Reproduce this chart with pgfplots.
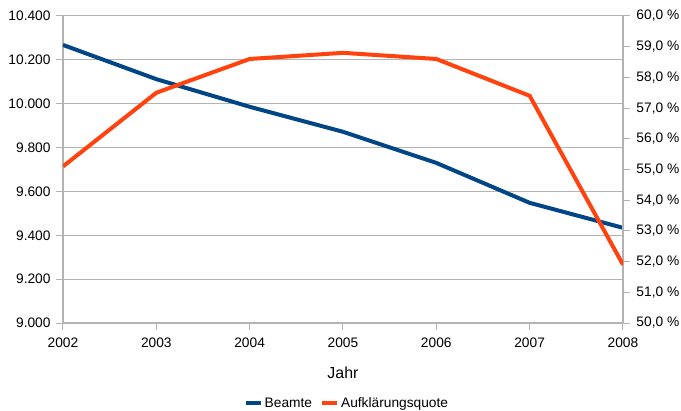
\documentclass[border=0pt]{standalone}
\usepackage{fontspec}
\setmainfont{Liberation Sans}
\usepackage{pgfplots}
\pgfplotsset{compat=1.18}
\definecolor{beamte}{HTML}{004586}
\definecolor{quote}{HTML}{FF420E}
\definecolor{gridgray}{HTML}{B3B3B3}

\begin{document}
\begin{tikzpicture}
\pgfplotsset{
  every axis/.append style={
    scale only axis, width=560bp, height=307bp,
    xmin=2002, xmax=2008,
    font=\fontsize{13.8}{16}\selectfont,
    axis line style={gridgray, line width=1.2bp},
    tick style={gridgray, line width=1bp},
    tick align=outside, major tick length=7bp,
    /pgf/number format/assume math mode=true,
  },
}
\begin{axis}[
  name=ax,
  axis x line*=bottom, axis y line*=left,
  ymin=9000, ymax=10400, ytick={9000,9200,...,10400},
  scaled y ticks=false,
  xtick={2002,...,2008},
  xticklabel style={/pgf/number format/1000 sep={}, yshift=-4bp},
  yticklabel style={/pgf/number format/fixed, /pgf/number format/1000 sep={.}, /pgf/number format/precision=0, xshift=-2bp},
  ymajorgrids, grid style={gridgray, line width=1bp},
  xlabel={Jahr},
  xlabel style={font=\fontsize{16}{19}\selectfont, at={(axis description cs:0.5,-0.162)}, anchor=center},
]
\addplot[beamte, line width=4bp] coordinates {
  (2002,10268) (2003,10112) (2004,9986) (2005,9872)
  (2006,9730) (2007,9548) (2008,9434)};
\end{axis}
\begin{axis}[
  axis x line=none, axis y line*=right,
  ymin=50, ymax=60, ytick={50,51,...,60},
  yticklabel={\pgfmathprintnumber[fixed, fixed zerofill, precision=1, use comma]{\tick}\ \%},
  yticklabel style={xshift=3bp},
  legend columns=2,
  legend style={at={(0.507,-0.262)}, anchor=center, draw=none, fill=none,
    font=\fontsize{13.8}{16}\selectfont,
    /tikz/every even column/.append style={column sep=6bp}},
  legend image code/.code={\draw[#1, line width=4bp] (0bp,0bp) -- (15bp,0bp);},
]
\addlegendimage{beamte}
\addlegendentry{Beamte}
\addplot[quote, line width=4bp] coordinates {
  (2002,55.1) (2003,57.5) (2004,58.6) (2005,58.8)
  (2006,58.6) (2007,57.4) (2008,51.9)};
\addlegendentry{Aufklärungsquote}
\end{axis}
\pgfresetboundingbox
\path ([shift={(-63bp,-88bp)}]ax.south west) rectangle ([shift={(58bp,16bp)}]ax.north east);
\end{tikzpicture}
\end{document}
